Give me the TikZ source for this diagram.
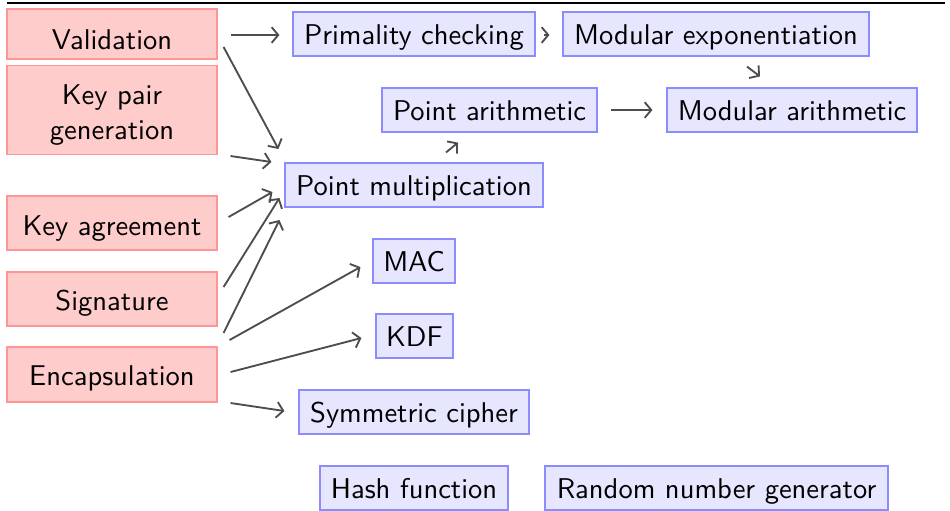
\documentclass[tikz,border=0pt]{standalone}
\usetikzlibrary{arrows.meta}
\definecolor{redfill}{RGB}{255,204,204}
\definecolor{redline}{RGB}{255,150,150}
\definecolor{bluefill}{RGB}{230,230,255}
\definecolor{blueline}{RGB}{140,140,255}
\definecolor{arrcol}{RGB}{77,77,77}
\begin{document}
\begin{tikzpicture}[x=0.35pt,y=-0.35pt,font=\sffamily,
  redbox/.style={draw=redline,fill=redfill,line width=0.4pt,inner sep=0pt,minimum width=73.5pt,text depth=0pt},
  bluebox/.style={draw=blueline,fill=bluefill,line width=0.4pt,inner sep=0pt,minimum height=15.4pt,text height=7pt,text depth=0pt},
  arr/.style={draw=arrcol,line width=0.65pt,-{Straight Barb[length=2.3pt,width=5.5pt]}}]
\useasboundingbox (0,0) rectangle (950,510);
\draw[line width=0.45pt] (7,3) -- (945,3);
% red boxes
\node[redbox,minimum height=17.5pt,text height=10.5pt] (val) at (112,34) {Validation};
\node[redbox,minimum height=31.15pt,label={[align=center,yshift=-1.75pt]center:Key pair\\generation}] (kp) at (112,110) {};
\node[redbox,minimum height=18.9pt,text height=8.4pt] (ka) at (112,223) {Key agreement};
\node[redbox,minimum height=18.9pt,text height=7.7pt] (sig) at (112,299) {Signature};
\node[redbox,minimum height=19.25pt,text height=7.35pt] (enc) at (112,374.5) {Encapsulation};
% blue boxes
\node[bluebox,minimum width=84.7pt] (prim) at (414,34) {Primality checking};
\node[bluebox,minimum width=107.1pt] (modexp) at (716,34) {Modular exponentiation};
\node[bluebox,minimum width=75.25pt] (pa) at (489.5,110) {Point arithmetic};
\node[bluebox,minimum width=87.5pt] (modar) at (792,110) {Modular arithmetic};
\node[bluebox,minimum width=90.3pt] (pm) at (414,185) {Point multiplication};
\node[bluebox,minimum width=28.7pt] (mac) at (414,261) {MAC};
\node[bluebox,minimum width=26.95pt] (kdf) at (414.5,336) {KDF};
\node[bluebox,minimum width=80.5pt] (sym) at (414,412) {Symmetric cipher};
\node[bluebox,minimum width=65.8pt] (hash) at (414,488) {Hash function};
\node[bluebox,minimum width=120.05pt] (rng) at (716.5,488) {Random number generator};
% arrows
\draw[arr] ([shift={(13,1)}]val.east) -- ([shift={(-13,1)}]prim.west);
\draw[arr] ([shift={(6,13)}]val.east) -- ([shift={(-6,-36)}]pm.west);
\draw[arr] ([shift={(13,46)}]kp.east) -- ([shift={(-13,-23)}]pm.west);
\draw[arr] ([shift={(11,-6)}]ka.east) -- ([shift={(-12,7)}]pm.west);
\draw[arr] ([shift={(6,-12)}]sig.east) -- ([shift={(-5,13)}]pm.west);
\draw[arr] ([shift={(6,-41.5)}]enc.east) -- ([shift={(-5,35)}]pm.west);
\draw[arr] ([shift={(12,-34.5)}]enc.east) -- ([shift={(-12,6)}]mac.west);
\draw[arr] ([shift={(13,-2.5)}]enc.east) -- ([shift={(-14,2)}]kdf.west);
\draw[arr] ([shift={(13,28.5)}]enc.east) -- ([shift={(-14,-1)}]sym.west);
\draw[arr] ([shift={(8,1)}]prim.east) -- ([shift={(-13,1)}]modexp.west);
\draw[arr] ([shift={(31,10)}]modexp.south) -- ([shift={(-32,-11)}]modar.north);
\draw[arr] ([shift={(13,0)}]pa.east) -- ([shift={(-14,0)}]modar.west);
\draw[arr] ([shift={(32,-10)}]pm.north) -- ([shift={(-31.5,10)}]pa.south);
\end{tikzpicture}
\end{document}
